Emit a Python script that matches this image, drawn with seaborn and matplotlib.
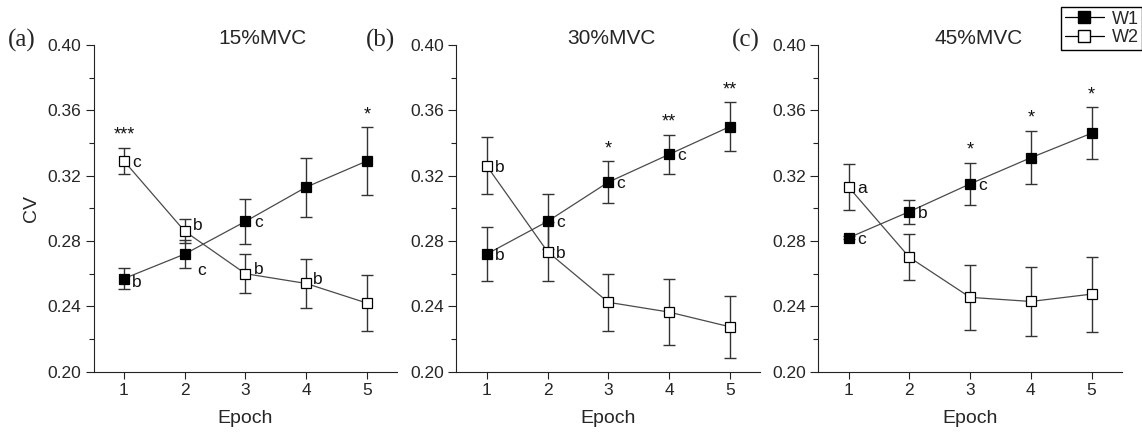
import matplotlib
matplotlib.use("Agg")
import matplotlib.pyplot as plt
import seaborn as sns
from matplotlib.lines import Line2D
from matplotlib.ticker import MultipleLocator

epochs = [1, 2, 3, 4, 5]
panels = ["(a)", "(b)", "(c)"]
titles = ["15%MVC", "30%MVC", "45%MVC"]

# mean CV and error (SD) per epoch, W1 = filled, W2 = open
w1_mean = [
    [0.257, 0.272, 0.292, 0.313, 0.329],
    [0.272, 0.292, 0.316, 0.333, 0.350],
    [0.282, 0.298, 0.315, 0.331, 0.346],
]
w1_err = [
    [0.0066, 0.0085, 0.0136, 0.018, 0.0206],
    [0.0167, 0.0167, 0.0128, 0.012, 0.0148],
    [0.001, 0.0074, 0.013, 0.0163, 0.0158],
]
w2_mean = [
    [0.329, 0.286, 0.260, 0.254, 0.242],
    [0.326, 0.2735, 0.2425, 0.2365, 0.2275],
    [0.313, 0.270, 0.2455, 0.243, 0.2475],
]
w2_err = [
    [0.008, 0.0075, 0.012, 0.0147, 0.017],
    [0.0175, 0.018, 0.0175, 0.020, 0.019],
    [0.014, 0.014, 0.020, 0.021, 0.023],
]

# letters next to points and significance stars
w1_letters = [
    ["b", "c", "c", "", ""],
    ["b", "c", "c", "c", ""],
    ["c", "b", "c", "", ""],
]
w2_letters = [
    ["c", "b", "b", "b", ""],
    ["b", "b", "", "", ""],
    ["a", "", "", "", ""],
]
w1_stars = [
    ["", "", "", "", "*"],
    ["", "", "*", "**", "**"],
    ["", "", "*", "*", "*"],
]
w2_stars = [
    ["***", "", "", "", ""],
    ["", "", "", "", ""],
    ["", "", "", "", ""],
]

# odd letter placements (offset points), default is just right of marker
letter_offsets = {
    (0, "w1", 1): (9, -12),
    (0, "w2", 1): (6, 4),
    (0, "w2", 2): (6, 3),
    (0, "w2", 3): (5, 3),
    (0, "w1", 0): (6, -3),
}

sns.set_theme(style="ticks")
plt.rcParams["font.family"] = ["Liberation Sans", "DejaVu Sans"]
plt.rcParams["axes.linewidth"] = 0.8

fig = plt.figure(figsize=(11.42, 4.32), dpi=100)
lefts = [93.6, 456.4, 818.3]
W, H = 1142.0, 432.0

line_col = "#4a4a4a"
err_col = "#333333"

for i in range(3):
    ax = fig.add_axes([lefts[i] / W, 1 - 371.7 / H, 303.7 / W, 326.7 / H])

    for mean, err, face in [(w1_mean[i], w1_err[i], "black"), (w2_mean[i], w2_err[i], "white")]:
        ax.errorbar(epochs, mean, yerr=err, fmt="none", ecolor=err_col,
                    elinewidth=1.0, capsize=4, capthick=1.0, zorder=2)
        sns.lineplot(x=epochs, y=mean, ax=ax, color=line_col, lw=0.9,
                     marker="s", markersize=7.5, markerfacecolor=face,
                     markeredgecolor="black", markeredgewidth=0.9, zorder=3)

    for key, mean, err, letters, stars in [
        ("w1", w1_mean[i], w1_err[i], w1_letters[i], w1_stars[i]),
        ("w2", w2_mean[i], w2_err[i], w2_letters[i], w2_stars[i]),
    ]:
        for j, x in enumerate(epochs):
            if letters[j]:
                off = letter_offsets.get((i, key, j), (6, -1))
                ax.annotate(letters[j], (x, mean[j]), xytext=off,
                            textcoords="offset points", ha="left", va="center",
                            fontsize=12.5, color="#111111")
            if stars[j]:
                ax.annotate(stars[j], (x, mean[j] + err[j]), xytext=(0, 3),
                            textcoords="offset points", ha="center", va="bottom",
                            fontsize=13, color="#111111")

    ax.set_xlim(0.5, 5.5)
    ax.set_ylim(0.20, 0.40)
    ax.set_xticks(epochs)
    ax.yaxis.set_major_locator(MultipleLocator(0.04))
    ax.yaxis.set_minor_locator(MultipleLocator(0.02))
    ax.set_yticklabels([f"{v:.2f}" for v in ax.get_yticks()])
    ax.tick_params(axis="both", which="major", direction="out", length=6,
                   width=0.8, labelsize=12.5, pad=3, color="#222222")
    ax.tick_params(axis="y", which="minor", direction="out", length=3.5,
                   width=0.8, color="#222222")
    ax.tick_params(axis="x", which="major", length=5)
    sns.despine(ax=ax)
    for s in ["left", "bottom"]:
        ax.spines[s].set_color("#222222")

    ax.set_xlabel("Epoch", fontsize=14, labelpad=9)
    if i == 0:
        ax.set_ylabel("CV", fontsize=14, labelpad=5)
    else:
        ax.set_ylabel("")

title_x = [262, 611, 979]
label_x = [8, 366, 732]
for i in range(3):
    fig.text(title_x[i] / W, 1 - 38 / H, titles[i], ha="center", va="center",
             fontsize=15)
    fig.text(label_x[i] / W, 1 - 40 / H, panels[i], ha="left", va="center",
             fontsize=18, family=["Liberation Serif", "DejaVu Serif"])

handles = [
    Line2D([], [], color="black", lw=0.9, marker="s", markersize=8,
           markerfacecolor="black", markeredgecolor="black"),
    Line2D([], [], color="black", lw=0.9, marker="s", markersize=8,
           markerfacecolor="white", markeredgecolor="black"),
]
fig.legend(handles, ["W1", "W2"], loc="upper left",
           bbox_to_anchor=(1061 / W, 1 - 7 / H), frameon=True, fancybox=False,
           edgecolor="black", framealpha=1, fontsize=13, handlelength=2.2,
           borderpad=0.2, labelspacing=0.1, handletextpad=0.4,
           borderaxespad=0)

fig.savefig("out.png", dpi=100)
